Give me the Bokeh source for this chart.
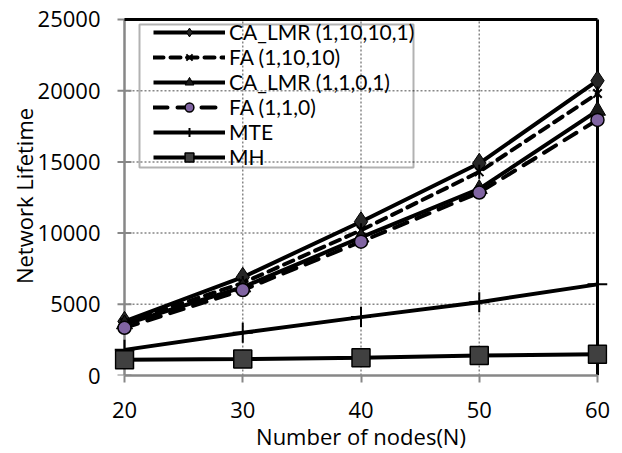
from bokeh.plotting import figure
from bokeh.models import Range1d, FixedTicker, BoxAnnotation
from bokeh.embed import file_html
from bokeh.resources import INLINE

# ---- data ----
nodes = [20, 30, 40, 50, 60]
ca_lmr_10 = [3800, 6900, 10800, 14900, 20700]
fa_10 = [3700, 6500, 10200, 14300, 19800]
ca_lmr_1 = [3600, 6200, 9700, 13100, 18600]
fa_1 = [3350, 6000, 9400, 12850, 17950]
mte = [1800, 3000, 4100, 5150, 6400]
mh = [1100, 1150, 1250, 1400, 1500]

labels = ["CA_LMR (1,10,10,1)", "FA (1,10,10)", "CA_LMR (1,1,0,1)", "FA (1,1,0)", "MTE", "MH"]
x_ticks = [20, 30, 40, 50, 60]
y_ticks = [0, 5000, 10000, 15000, 20000, 25000]
y_tick_labels = ["0", "5000", "10000", "15000", "20000", "25000"]
x_title = "Number of nodes(N)"
y_title = "Network Lifetime"

x_min, x_max = 20, 60
y_min, y_max = 0, 25000

FONT = "Open Sans"
LEGEND_FONT = "Lato"
GRAY = "#878787"

p = figure(width=622, height=453,
           x_range=Range1d(19.154, 60.846), y_range=Range1d(0, 25210),
           output_backend="svg", toolbar_location=None,
           min_border_left=114, min_border_right=15, min_border_top=16, min_border_bottom=77)
p.outline_line_color = None
p.xgrid.visible = False
p.ygrid.visible = False
p.background_fill_color = "white"

# grid (dotted)
y_grid = [v for v in y_ticks if y_min < v < y_max]
x_grid = [v for v in x_ticks if x_min < v < x_max]
p.segment(x0=[x_min] * len(y_grid), x1=[x_max] * len(y_grid), y0=y_grid, y1=y_grid,
          line_color=GRAY, line_width=1.5, line_dash="2 2")
p.segment(x0=x_grid, x1=x_grid, y0=[y_min] * len(x_grid), y1=[y_max] * len(x_grid),
          line_color=GRAY, line_width=1.5, line_dash="2 2")
# left value axis line and its tick marks (at x = x_min)
p.scatter([x_min] * len(y_ticks), y_ticks, marker="dash", size=14, line_color=GRAY, line_width=2)
p.segment(x0=[x_min], x1=[x_min], y0=[y_min], y1=[y_max], line_color=GRAY, line_width=2.5)
# black top and right border
p.segment(x0=[x_min, x_max], x1=[x_max, x_max], y0=[y_max, y_min], y1=[y_max, y_max],
          line_color="black", line_width=3)

# axes
xa = p.xaxis[0]
xa.ticker = FixedTicker(ticks=x_ticks)
xa.bounds = (x_min, x_max)
ya = p.yaxis[0]
ya.ticker = FixedTicker(ticks=y_ticks)
ya.major_label_overrides = {v: s for v, s in zip(y_ticks, y_tick_labels)}
for ax in (xa, ya):
    ax.axis_line_color = GRAY
    ax.axis_line_width = 2.5
    ax.major_tick_line_color = GRAY
    ax.major_tick_line_width = 2
    ax.major_tick_out = 7
    ax.major_tick_in = 0
    ax.minor_tick_line_color = None
    ax.major_label_text_font = FONT
    ax.major_label_text_font_size = "22px"
    ax.major_label_text_color = "black"
    ax.axis_label_text_font = FONT
    ax.axis_label_text_font_size = "22px"
    ax.axis_label_text_font_style = "normal"
    ax.axis_label_text_color = "black"
ya.axis_line_color = None
ya.major_tick_line_color = None
ya.major_tick_out = 0
xa.axis_label = x_title
ya.axis_label = y_title
xa.major_label_standoff = 19
xa.axis_label_standoff = 0
ya.major_label_standoff = 14
ya.axis_label_standoff = -4

LW = 4
# CA_LMR (1,10,10,1)
p.line(nodes, ca_lmr_10, line_color="black", line_width=LW, legend_label=labels[0])
p.scatter(nodes, ca_lmr_10, marker="diamond", size=20, fill_color="#262626",
          line_color="black", line_width=1, legend_label=labels[0])
# FA (1,10,10)
p.line(nodes, fa_10, line_color="black", line_width=LW, line_dash="10 7", line_cap="round",
       legend_label=labels[1])
p.scatter(nodes, fa_10, marker="x", size=12, line_color="black", line_width=2,
          legend_label=labels[1])
p.scatter(nodes, fa_10, marker="dash", size=14, angle=1.5708, line_color="black", line_width=2,
          legend_label=labels[1])
# CA_LMR (1,1,0,1)
p.line(nodes, ca_lmr_1, line_color="black", line_width=LW, legend_label=labels[2])
p.scatter(nodes, ca_lmr_1, marker="triangle", size=16, fill_color="#1a1a1a",
          line_color="black", line_width=1, legend_label=labels[2])
# FA (1,1,0)
p.line(nodes, fa_1, line_color="black", line_width=LW, line_dash="14 10", line_cap="round",
       legend_label=labels[3])
p.scatter(nodes, fa_1, marker="circle", size=13, fill_color="#8064A2",
          line_color="black", line_width=1.5, legend_label=labels[3])
# MTE
p.line(nodes, mte, line_color="black", line_width=LW, legend_label=labels[4])
p.scatter(nodes, mte, marker="cross", size=20, line_color="black", line_width=2,
          legend_label=labels[4])
# MH
p.line(nodes, mh, line_color="black", line_width=LW, legend_label=labels[5])
p.scatter(nodes, mh, marker="square", size=18, fill_color="#404040",
          line_color="black", line_width=1.5, legend_label=labels[5])

# legend
lg = p.legend[0]
lg.location = (39, 206)
lg.border_line_color = None
lg.background_fill_alpha = 0
lg.padding = 0
lg.margin = 0
lg.spacing = -1
lg.glyph_width = 72
lg.glyph_height = 22
lg.label_height = 22
lg.label_standoff = 4
lg.label_text_font = LEGEND_FONT
lg.label_text_font_size = "21px"
lg.label_text_color = "black"

box = BoxAnnotation(left=139, right=413, top=24, bottom=167,
                    left_units="canvas", right_units="canvas",
                    top_units="canvas", bottom_units="canvas",
                    fill_alpha=0, line_color="black", line_width=2)
p.add_layout(box)

open("out.html", "w").write(file_html(p, INLINE))
